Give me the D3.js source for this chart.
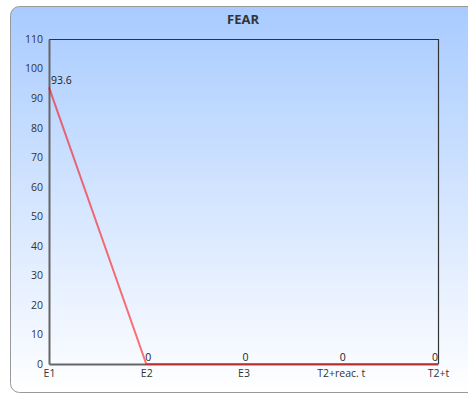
<!DOCTYPE html>
<html><head><meta charset="utf-8">
<script src="https://cdn.jsdelivr.net/npm/d3@7"></script>
<style>html,body{margin:0;padding:0;background:#fff;overflow:hidden}</style>
</head><body>
<svg id="c" width="468" height="394"></svg>
<script>
const title = "FEAR";
const categories = ["E1", "E2", "E3", "T2+reac. t", "T2+t"];
const values = [93.6, 0, 0, 0, 0];
const yTicks = [0, 10, 20, 30, 40, 50, 60, 70, 80, 90, 100, 110];

const svg = d3.select("#c");
const defs = svg.append("defs");
const g = defs.append("linearGradient").attr("id", "bg").attr("x1", 0).attr("y1", 0).attr("x2", 0).attr("y2", 1);
g.append("stop").attr("offset", "0%").attr("stop-color", "#a8cbff");
g.append("stop").attr("offset", "100%").attr("stop-color", "#ffffff");

svg.append("rect").attr("x", 10.5).attr("y", 6.5).attr("width", 470).attr("height", 386)
  .attr("rx", 9).attr("fill", "url(#bg)").attr("stroke", "#999").attr("stroke-width", 1);

const font = "'Open Sans', sans-serif";
svg.append("text").attr("x", 243).attr("y", 24).attr("text-anchor", "middle")
  .attr("font-family", font).attr("font-weight", "bold").attr("font-size", 13).attr("fill", "#333").text(title);

const L = 49, R = 438, T = 39, B = 364;
const x = d3.scalePoint().domain(categories).range([L, R]);
const y = d3.scaleLinear().domain([0, 110]).range([B, T]);

// frame top/right
svg.append("path").attr("d", `M${L},${T+0.5}H${R+0.5}V${B}`).attr("fill", "none").attr("stroke", "#333").attr("stroke-width", 1.2);

const yAxis = svg.append("g").attr("transform", `translate(${L},0)`)
  .call(d3.axisLeft(y).tickValues(yTicks).tickSize(0).tickPadding(6));
const xAxis = svg.append("g").attr("transform", `translate(0,${B})`)
  .call(d3.axisBottom(x).tickSize(0).tickPadding(6));
[yAxis, xAxis].forEach(a => {
  a.select(".domain").attr("stroke", "#666").attr("stroke-width", 2);
  a.selectAll("text").attr("font-family", font).attr("font-size", 10.5).attr("fill", "#333");
});

const line = d3.line().x((d, i) => x(categories[i])).y(d => y(d));
svg.append("path").datum(values).attr("d", line).attr("fill", "none")
  .attr("stroke", "rgba(255,0,0,0.55)").attr("stroke-width", 2);

svg.selectAll(".lbl").data(values).enter().append("text")
  .attr("x", (d, i) => x(categories[i]) + (i === 0 ? 2 : (i === categories.length - 1 ? -6 : -1)))
  .attr("y", d => y(d) - 3)
  .attr("font-family", font).attr("font-size", 10.5).attr("fill", "#222")
  .attr("text-anchor", "start")
  .text(d => d);
</script>
</body></html>
